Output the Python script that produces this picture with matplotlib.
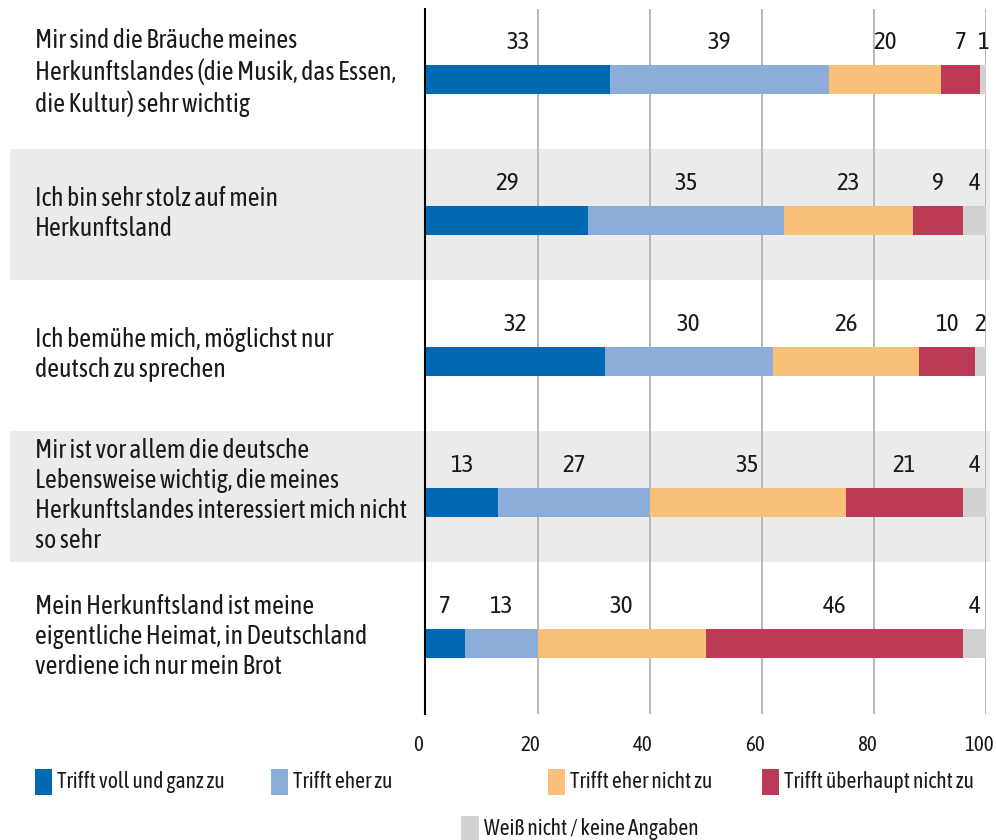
import numpy as np
import matplotlib
matplotlib.use('Agg')
import matplotlib.pyplot as plt
import matplotlib.patches as mpatches
import matplotlib.transforms as mtransforms

plt.rcParams['font.family'] = ['Asap Condensed', 'Roboto Condensed', 'DejaVu Sans']

# -------------------------
# data

statements = [
    'Mir sind die Bräuche meines\nHerkunftslandes (die Musik, das Essen,\ndie Kultur) sehr wichtig',
    'Ich bin sehr stolz auf mein\nHerkunftsland',
    'Ich bemühe mich, möglichst nur\ndeutsch zu sprechen',
    'Mir ist vor allem die deutsche\nLebensweise wichtig, die meines\nHerkunftslandes interessiert mich nicht\nso sehr',
    'Mein Herkunftsland ist meine\neigentliche Heimat, in Deutschland\nverdiene ich nur mein Brot',
]
categories = ['Trifft voll und ganz zu', 'Trifft eher zu', 'Trifft eher nicht zu',
              'Trifft überhaupt nicht zu', 'Weiß nicht / keine Angaben']
voll = [33, 29, 32, 13, 7]
eher = [39, 35, 30, 27, 13]
eher_nicht = [20, 23, 26, 35, 30]
ueberhaupt_nicht = [7, 9, 10, 21, 46]
weiss_nicht = [1, 4, 2, 4, 4]
x_ticks = [0, 20, 40, 60, 80, 100]
shaded_rows = [1, 3]

colors = ['#0069b4', '#8cadd9', '#f9c177', '#bc3a55', '#d0d1d0']

# -------------------------

fig = plt.figure(figsize=(9.96, 8.4), dpi=100)
ax = fig.add_axes([0.4272, 0.1496, 0.5625, 0.8397])
ax.patch.set_visible(False)

series = [voll, eher, eher_nicht, ueberhaupt_nicht, weiss_nicht]
y = np.arange(len(statements))
left = np.zeros(len(statements))

for vals, col in zip(series, colors):
    vals = np.array(vals, dtype=float)
    ax.barh(y, vals, left=left, height=0.206, color=col, zorder=3)
    for yi, l, v in zip(y, left, vals):
        ax.text(l + v / 2, yi - 0.265, f'{int(v)}', ha='center', va='center',
                fontsize=18, color='#1a1a1a', zorder=4)
    left += vals

ax.set_xlim(0, 100)
ax.set_ylim(4.5, -0.5)
ax.set_xticks(x_ticks)
ax.set_yticks([])
ax.tick_params(axis='x', length=0, pad=15, labelsize=15, labelcolor='#1a1a1a')
shift = mtransforms.ScaledTranslation(-0.07, 0, fig.dpi_scale_trans)
for lab in ax.get_xticklabels():
    lab.set_transform(lab.get_transform() + shift)
ax.xaxis.grid(True, color='#b3b3b3', linewidth=1.3, zorder=1)
for s in ['top', 'right', 'bottom']:
    ax.spines[s].set_visible(False)
ax.spines['left'].set_color('black')
ax.spines['left'].set_linewidth(1.5)
ax.spines['left'].set_zorder(5)

# grey bands reaching into the label area
trans = mtransforms.blended_transform_factory(fig.transFigure, ax.transData)
for r in shaded_rows:
    fig.add_artist(mpatches.Rectangle((0.01, r - 0.51), 0.984, 0.93, transform=trans,
                                      facecolor='#ebebeb', edgecolor='none', zorder=-1))

for yi, txt in zip(y, statements):
    ax.text(0.035, yi - 0.05, txt, transform=trans, ha='left', va='center',
            fontsize=18.5, linespacing=1.25, color='#1a1a1a')

# legend drawn by hand (irregular spacing in original)
leg_x = [0.035, 0.272, 0.550, 0.765, 0.463]
leg_y = [0.069, 0.069, 0.069, 0.069, 0.013]
for lx, ly, col, cat in zip(leg_x, leg_y, colors, categories):
    fig.add_artist(mpatches.Rectangle((lx, ly - 0.016), 0.0175, 0.032,
                                      transform=fig.transFigure, facecolor=col,
                                      edgecolor='none'))
    fig.text(lx + 0.0225, ly, cat, ha='left', va='center', fontsize=15.5, color='#1a1a1a')

plt.savefig('out.png', dpi=100)
